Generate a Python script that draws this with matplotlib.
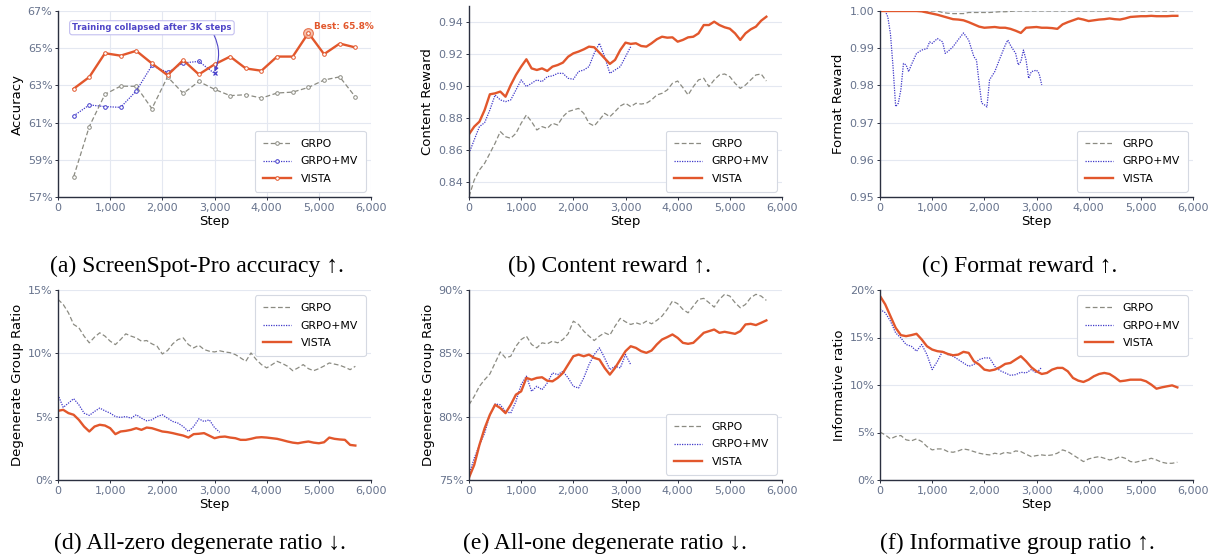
import matplotlib
matplotlib.use("Agg")
import matplotlib.pyplot as plt
from matplotlib.ticker import FuncFormatter

# ---- data ----
steps = list(range(0, 5701, 100))
steps_mv = list(range(0, 3101, 100))

# (a) ScreenSpot-Pro accuracy, evaluated every 300 steps
acc_steps = list(range(300, 5701, 300))
acc_grpo = [58.09, 60.79, 62.52, 62.96, 62.95, 61.75, 63.46, 62.57, 63.21, 62.79,
            62.45, 62.50, 62.32, 62.59, 62.64, 62.89, 63.29, 63.46, 62.38]
acc_mv_steps = list(range(300, 3001, 300))
acc_mv = [61.36, 61.95, 61.86, 61.82, 62.70, 64.07, 63.70, 64.21, 64.29, 63.64]
acc_vista = [62.82, 63.45, 64.73, 64.60, 64.86, 64.18, 63.55, 64.36, 63.59, 64.13,
             64.55, 63.91, 63.79, 64.55, 64.55, 65.82, 64.68, 65.25, 65.04]

# (b) content reward
content_grpo = [.8308, .8412, .8475, .8517, .8579, .8642, .8715, .8683, .8673, .8704,
                .8767, .8819, .8777, .8725, .8746, .8735, .8767, .8756, .8808, .8840,
                .8850, .8860, .8829, .8767, .8750, .8788, .8829, .8808, .8840, .8875,
                .8892, .8871, .8892, .8887, .8892, .8913, .8944, .8954, .8975, .9017,
                .9031, .8990, .8944, .8996, .9038, .9048, .8996, .9038, .9069, .9075,
                .9058, .9017, .8985, .9006, .9038, .9069, .9075, .9031]
content_mv = [.8579, .8663, .8746, .8771, .8850, .8944, .8913, .8902, .8913, .8975,
              .9038, .8996, .9017, .9038, .9027, .9058, .9063, .9079, .9079, .9048,
              .9042, .9090, .9100, .9121, .9204, .9267, .9183, .9079, .9100, .9121,
              .9183, .9246]
content_vista = [.8698, .8746, .8777, .8850, .8948, .8954, .8965, .8933, .9006, .9069,
                 .9121, .9167, .9110, .9100, .9110, .9094, .9121, .9131, .9146, .9183,
                 .9204, .9215, .9229, .9246, .9242, .9208, .9173, .9138, .9163, .9225,
                 .9271, .9263, .9267, .9250, .9246, .9267, .9292, .9308, .9302, .9304,
                 .9277, .9288, .9304, .9308, .9329, .9381, .9381, .9402, .9381, .9367,
                 .9358, .9329, .9288, .9329, .9354, .9371, .9408, .9433]

# (c) format reward
format_grpo = [1.0] * 12 + [.9996, .9994, .9993, .9993, .9993, .9996, .9996, .9996,
                            .9996, .9996, .9997, .9998, .9998, .9999] + [1.0] * 32
format_mv_steps = [0, 100, 150, 200, 250, 300, 350, 400, 450, 500, 550, 600, 700, 800,
                   900, 950, 1000, 1100, 1200, 1250, 1300, 1400, 1500, 1600, 1700, 1800,
                   1850, 1900, 1950, 2000, 2050, 2100, 2200, 2300, 2400, 2450, 2500,
                   2600, 2650, 2700, 2750, 2800, 2850, 2900, 3000, 3050, 3100]
format_mv = [1.0, 1.0, .9984, .9939, .9850, .9743, .9752, .9788, .9859, .9855, .9837,
             .9855, .9886, .9895, .9899, .9917, .9913, .9926, .9917, .9886, .9891,
             .9904, .9923, .9941, .9922, .9877, .9868, .9806, .9752, .9748, .9742,
             .9815, .9837, .9873, .9908, .9922, .9908, .9886, .9855, .9864, .9895,
             .9868, .9819, .9837, .9841, .9832, .9801]
format_vista = [1.0, 1.0, 1.0, 1.0, 1.0, 1.0, 1.0, 1.0, .9999, .9996,
                .9993, .9990, .9986, .9982, .9978, .9977, .9975, .9970, .9964, .9958,
                .9955, .9956, .9957, .9955, .9955, .9952, .9947, .9941, .9955, .9956,
                .9957, .9955, .9955, .9954, .9952, .9964, .9970, .9975, .9980, .9977,
                .9973, .9975, .9977, .9978, .9980, .9978, .9977, .9980, .9984, .9985,
                .9986, .9986, .9987, .9986, .9986, .9986, .9987, .9987]

# (d) all-zero degenerate ratio (%)
zero_grpo = [14.26, 13.86, 13.20, 12.28, 12.02, 11.36, 10.83, 11.28, 11.62, 11.36,
             10.96, 10.69, 11.09, 11.54, 11.36, 11.22, 10.96, 11.01, 10.75, 10.56,
             9.95, 10.22, 10.75, 11.09, 11.22, 10.69, 10.43, 10.64, 10.30, 10.17,
             10.11, 10.20, 10.11, 10.05, 9.90, 9.64, 9.37, 10.03, 9.51, 9.11,
             8.85, 9.10, 9.37, 9.20, 8.98, 8.63, 8.85, 9.11, 8.79, 8.63,
             8.79, 9.00, 9.24, 9.15, 9.06, 8.90, 8.71, 8.98]
zero_mv = [6.73, 5.73, 6.07, 6.42, 5.94, 5.28, 5.10, 5.41, 5.68, 5.46,
           5.28, 5.01, 4.94, 5.01, 4.88, 5.15, 4.88, 4.67, 4.75, 5.01,
           5.15, 4.88, 4.62, 4.49, 4.22, 3.83, 4.22, 4.83, 4.62, 4.75,
           4.14, 3.77]
zero_vista = [5.46, 5.54, 5.28, 5.15, 4.75, 4.22, 3.83, 4.22, 4.36, 4.30,
              4.09, 3.62, 3.83, 3.88, 3.96, 4.09, 3.96, 4.14, 4.09, 3.96,
              3.83, 3.78, 3.70, 3.60, 3.51, 3.35, 3.62, 3.65, 3.70, 3.50,
              3.30, 3.40, 3.43, 3.35, 3.30, 3.17, 3.17, 3.25, 3.35, 3.38,
              3.35, 3.30, 3.25, 3.15, 3.04, 2.95, 2.90, 2.98, 3.04, 2.95,
              2.90, 2.98, 3.35, 3.25, 3.20, 3.17, 2.77, 2.72]

# (e) all-one degenerate ratio (%)
one_grpo = [80.94, 81.60, 82.40, 82.92, 83.37, 84.24, 85.11, 84.64, 84.77, 85.56,
            86.09, 86.36, 85.70, 85.43, 85.83, 85.75, 85.96, 85.83, 86.09, 86.54,
            87.54, 87.28, 86.75, 86.36, 86.01, 86.36, 86.62, 86.44, 87.15, 87.76,
            87.49, 87.28, 87.41, 87.28, 87.54, 87.33, 87.60, 87.94, 88.47, 89.13,
            88.92, 88.47, 88.20, 88.73, 89.26, 89.34, 89.00, 88.65, 89.26, 89.66,
            89.52, 89.00, 88.60, 88.86, 89.39, 89.66, 89.52, 89.18]
one_mv = [75.40, 76.72, 77.77, 78.70, 80.15, 81.00, 80.94, 80.41, 80.28, 81.21,
          82.53, 83.20, 82.00, 82.40, 82.13, 82.66, 83.45, 83.32, 83.58, 83.06,
          82.40, 82.26, 83.06, 84.11, 84.90, 85.43, 84.64, 83.72, 83.98, 83.85,
          84.90, 84.11]
one_vista = [75.19, 76.19, 77.77, 79.09, 80.15, 80.94, 80.68, 80.28, 80.94, 81.74,
             82.00, 83.06, 82.92, 83.06, 83.11, 82.84, 82.79, 83.06, 83.45, 84.11,
             84.77, 84.90, 84.77, 84.90, 84.64, 84.51, 83.85, 83.32, 83.85, 84.51,
             85.17, 85.56, 85.43, 85.17, 85.04, 85.22, 85.70, 86.09, 86.28, 86.49,
             86.22, 85.83, 85.75, 85.83, 86.22, 86.62, 86.75, 86.88, 86.62, 86.70,
             86.62, 86.54, 86.75, 87.28, 87.33, 87.23, 87.41, 87.60]

# (f) informative group ratio (%)
info_grpo = [5.04, 4.75, 4.33, 4.58, 4.68, 4.23, 4.12, 4.33, 4.05, 3.52,
             3.17, 3.27, 3.27, 2.99, 2.92, 3.06, 3.27, 3.17, 2.99, 2.82,
             2.71, 2.64, 2.82, 2.71, 2.92, 2.82, 3.06, 2.99, 2.71, 2.46,
             2.57, 2.64, 2.57, 2.64, 2.82, 3.17, 2.99, 2.64, 2.29, 1.94,
             2.22, 2.36, 2.46, 2.29, 2.11, 2.22, 2.46, 2.29, 1.94, 1.87,
             2.01, 2.11, 2.29, 2.11, 1.87, 1.76, 1.76, 1.87]
info_mv = [17.96, 17.61, 16.73, 15.49, 14.96, 14.26, 14.08, 13.56, 14.26, 13.20,
           11.62, 12.50, 13.56, 13.20, 13.03, 12.68, 12.32, 11.97, 12.15, 12.68,
           12.85, 12.85, 11.97, 11.51, 11.27, 11.02, 11.09, 11.34, 11.27, 11.62,
           11.27, 11.87]
info_vista = [19.37, 18.49, 17.25, 16.02, 15.25, 15.14, 15.25, 15.39, 14.79, 14.08,
              13.73, 13.56, 13.49, 13.27, 13.13, 13.20, 13.49, 13.38, 12.50, 12.15,
              11.62, 11.51, 11.62, 11.87, 12.22, 12.32, 12.68, 13.03, 12.50, 11.87,
              11.44, 11.16, 11.27, 11.62, 11.80, 11.80, 11.44, 10.74, 10.46, 10.32,
              10.56, 10.92, 11.16, 11.27, 11.16, 10.81, 10.39, 10.46, 10.56, 10.56,
              10.56, 10.39, 10.04, 9.61, 9.75, 9.86, 9.96, 9.75]

captions_top = ["(a) ScreenSpot-Pro accuracy \u2191.", "(b) Content reward \u2191.",
                "(c) Format reward \u2191."]
captions_bot = ["(d) All-zero degenerate ratio \u2193.", "(e) All-one degenerate ratio \u2193.",
                "(f) Informative group ratio \u2191."]

# ---- style ----
C_GRPO = "#8b8b82"
C_MV = "#3f38c9"
C_VISTA = "#e2572c"
C_TICK = "#66728c"
C_SPINE = "#2b3040"
C_GRID = "#e4e8f1"

plt.rcParams["font.family"] = "DejaVu Sans"

fig = plt.figure(figsize=(12.17, 5.6), dpi=100)
W, H = 1217, 560


def box(left, top, right, bottom):
    return [left / W, 1 - bottom / H, (right - left) / W, (bottom - top) / H]


def style(ax, ylim, yticks, yfmt, ylabel, vgrid=False):
    ax.set_xlim(0, 6000)
    ax.set_ylim(*ylim)
    ax.set_xticks(range(0, 6001, 1000))
    ax.set_yticks(yticks)
    ax.xaxis.set_major_formatter(FuncFormatter(lambda v, p: f"{int(v):,}"))
    ax.yaxis.set_major_formatter(FuncFormatter(yfmt))
    for s in ["top", "right"]:
        ax.spines[s].set_visible(False)
    for s in ["left", "bottom"]:
        ax.spines[s].set_color(C_SPINE)
        ax.spines[s].set_linewidth(1.0)
    ax.tick_params(labelsize=8, labelcolor=C_TICK, color=C_SPINE, length=2.5, width=0.7, pad=1.5)
    ax.grid(True, axis="both" if vgrid else "y", color=C_GRID, lw=0.8)
    ax.set_axisbelow(True)
    ax.set_xlabel("Step", fontsize=9.5, labelpad=2)
    ax.set_ylabel(ylabel, fontsize=9.5, labelpad=3)


def legend(ax, loc):
    lg = ax.legend(loc=loc, fontsize=7.8, handlelength=2.6, frameon=True, fancybox=True,
                   borderpad=0.7, labelspacing=0.7, handletextpad=0.9)
    lg.get_frame().set_edgecolor("#d5d9e2")
    lg.get_frame().set_linewidth(0.8)
    lg.get_frame().set_alpha(1)


pct = lambda v, p: f"{v:.0f}%"
dec2 = lambda v, p: f"{v:.2f}"

kw_grpo = dict(color=C_GRPO, lw=0.9, dashes=(3.8, 2), label="GRPO")
kw_mv = dict(color=C_MV, lw=0.9, dashes=(1, 1), label="GRPO+MV")
kw_vista = dict(color=C_VISTA, lw=1.7, label="VISTA")

# (a)
ax = fig.add_axes(box(58, 11, 371, 197))
ax.plot(acc_steps, acc_grpo, marker="o", ms=2.6, mfc="white", mew=0.7, **kw_grpo)
ax.plot(acc_mv_steps[:-1], acc_mv[:-1], marker="o", ms=2.6, mfc="white", mew=0.7, **kw_mv)
ax.plot(acc_mv_steps[-2:], acc_mv[-2:], color=C_MV, lw=0.9, dashes=(1, 1))
ax.plot(acc_mv_steps[-1], acc_mv[-1], marker="x", ms=3.5, mew=0.9, color=C_MV)
ax.plot(acc_steps, acc_vista, marker="o", ms=2.6, mfc="white", mew=0.7, **kw_vista)
best = acc_vista.index(max(acc_vista))
ax.plot(acc_steps[best], acc_vista[best], marker="o", ms=7, mfc="#f4b49c", mec=C_VISTA,
        mew=0.8, alpha=0.8)
ax.plot(acc_steps[best], acc_vista[best], marker="o", ms=2.6, mfc="white", mec=C_VISTA, mew=0.7)
ax.text(acc_steps[best] + 100, 66.14, f"Best: {max(acc_vista):.1f}%", color=C_VISTA,
        fontsize=6.4, fontweight="bold", va="center", ha="left")
ax.annotate("Training collapsed after 3K steps", xy=(acc_mv_steps[-1], acc_mv[-1] + 0.1),
            xytext=(1800, 66.1), ha="center", va="center", fontsize=6.1, fontweight="bold",
            color="#5046c8",
            bbox=dict(boxstyle="round,pad=0.3", fc="white", ec="#c3bff0", lw=0.8),
            arrowprops=dict(arrowstyle="-|>", color="#5046c8", lw=0.8, mutation_scale=6,
                            shrinkA=0, shrinkB=0, relpos=(0.88, 0.0),
                            connectionstyle="arc3,rad=-0.25"))
style(ax, (57, 67), range(57, 68, 2), pct, "Accuracy", vgrid=True)
legend(ax, "lower right")

# (b)
ax = fig.add_axes(box(469, 6, 782, 197))
ax.plot(steps, content_grpo, **kw_grpo)
ax.plot(steps_mv, content_mv, **kw_mv)
ax.plot(steps, content_vista, **kw_vista)
style(ax, (0.8306, 0.95), [0.84, 0.86, 0.88, 0.90, 0.92, 0.94], dec2, "Content Reward")
legend(ax, "lower right")

# (c)
ax = fig.add_axes(box(880, 11, 1193, 197))
ax.plot(steps, format_grpo, **kw_grpo)
ax.plot(format_mv_steps, format_mv, **kw_mv)
ax.plot(steps, format_vista, **kw_vista)
style(ax, (0.95, 1.0), [0.95, 0.96, 0.97, 0.98, 0.99, 1.00], dec2, "Format Reward")
legend(ax, "lower right")

# (d)
ax = fig.add_axes(box(58, 290, 371, 480))
ax.plot(steps, zero_grpo, **kw_grpo)
ax.plot(steps_mv, zero_mv, **kw_mv)
ax.plot(steps, zero_vista, **kw_vista)
style(ax, (0, 15), [0, 5, 10, 15], pct, "Degenerate Group Ratio")
legend(ax, "upper right")

# (e)
ax = fig.add_axes(box(469, 290, 782, 480))
ax.plot(steps, one_grpo, **kw_grpo)
ax.plot(steps_mv, one_mv, **kw_mv)
ax.plot(steps, one_vista, **kw_vista)
style(ax, (75, 90), [75, 80, 85, 90], pct, "Degenerate Group Ratio")
legend(ax, "lower right")

# (f)
ax = fig.add_axes(box(880, 290, 1193, 480))
ax.plot(steps, info_grpo, **kw_grpo)
ax.plot(steps_mv, info_mv, **kw_mv)
ax.plot(steps, info_vista, **kw_vista)
style(ax, (0, 20), [0, 5, 10, 15, 20], pct, "Informative ratio")
legend(ax, "upper right")

serif = ["Liberation Serif", "DejaVu Serif"]
for x, t in zip([197, 609, 1020], captions_top):
    fig.text(x / W, 1 - 266 / H, t, ha="center", va="center", fontsize=17, family=serif)
for x, t in zip([200, 605, 1017], captions_bot):
    fig.text(x / W, 1 - 543 / H, t, ha="center", va="center", fontsize=17, family=serif)

fig.savefig("out.png", dpi=100)
